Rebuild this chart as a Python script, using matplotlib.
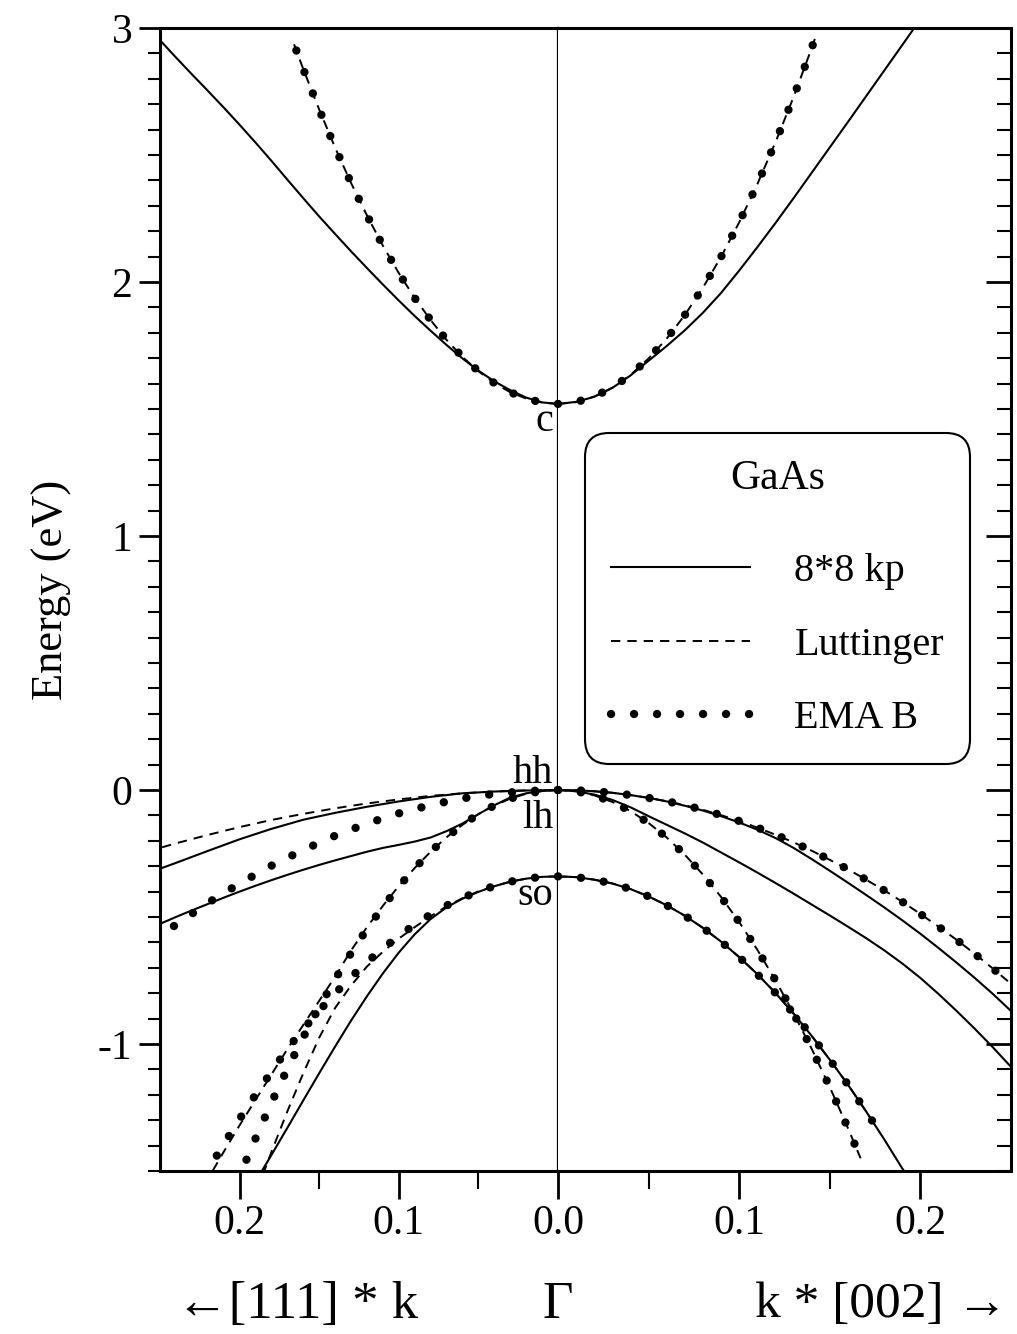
import matplotlib
matplotlib.use('Agg')
import matplotlib.pyplot as plt
from matplotlib.ticker import MultipleLocator, FixedLocator, FormatStrFormatter

plt.rcParams['font.family'] = ['Liberation Serif', 'DejaVu Serif']
plt.rcParams['axes.unicode_minus'] = False

# ---------------- band data, GaAs ----------------
# k * [002] side (right half)
c8_k002 = [0, .01, .02, .03, .04, .05, .06, .07, .08, .09, .10, .11, .12, .13, .14, .15, .16, .17, .18, .19, .1966]
c8_e002 = [1.520, 1.528, 1.548, 1.583, 1.632, 1.690, 1.748, 1.810, 1.879, 1.957, 2.045, 2.137, 2.232, 2.330, 2.430,
           2.530, 2.630, 2.731, 2.832, 2.933, 3.0]
cp_k002 = [0, .01, .02, .03, .04, .05, .06, .07, .08, .09, .10, .11, .12, .13, .14, .142]
cp_e002 = [1.520, 1.527, 1.549, 1.584, 1.634, 1.699, 1.777, 1.870, 1.978, 2.099, 2.235, 2.385, 2.550, 2.728, 2.921,
           2.962]

k002 = [0, .01, .02, .03, .04, .05, .06, .07, .08, .09, .10, .11, .12, .13, .14, .15, .16, .17, .18, .19, .20,
        .21, .22, .23, .24, .25]
hh8_e002 = [0, -0.001, -0.005, -0.011, -0.020, -0.031, -0.045, -0.062, -0.081, -0.103, -0.128, -0.156, -0.189,
            -0.228, -0.272, -0.318, -0.365, -0.413, -0.462, -0.513, -0.566, -0.622, -0.680, -0.740, -0.803, -0.870]
hhp_e002 = [0, -0.001, -0.005, -0.011, -0.020, -0.031, -0.044, -0.060, -0.078, -0.099, -0.122, -0.148, -0.176,
            -0.206, -0.239, -0.275, -0.312, -0.353, -0.395, -0.440, -0.488, -0.538, -0.590, -0.645, -0.703, -0.763]
lh8_e002 = [0, -0.005, -0.018, -0.039, -0.068, -0.103, -0.137, -0.171, -0.207, -0.246, -0.285, -0.325, -0.366,
            -0.408, -0.451, -0.494, -0.538, -0.583, -0.631, -0.683, -0.740, -0.803, -0.870, -0.940, -1.013, -1.090]

lhp_k002 = [0, .01, .02, .03, .04, .05, .06, .07, .08, .09, .10, .11, .12, .13, .14, .15, .16, .167]
lhp_e002 = [0, -0.005, -0.021, -0.047, -0.083, -0.130, -0.187, -0.255, -0.333, -0.421, -0.520, -0.629, -0.749,
            -0.879, -1.019, -1.170, -1.331, -1.450]

so8_k002 = [0, .01, .02, .03, .04, .05, .06, .07, .08, .09, .10, .11, .12, .13, .14, .15, .16, .17, .18, .19, .191]
so8_e002 = [-0.340, -0.343, -0.353, -0.368, -0.390, -0.419, -0.454, -0.495, -0.543, -0.597, -0.658, -0.725, -0.799,
            -0.880, -0.968, -1.062, -1.160, -1.265, -1.375, -1.490, -1.500]
sop_k002 = [0, .01, .02, .03, .04, .05, .06, .07, .08, .09, .10, .11, .12, .13, .14, .15, .16, .17, .175]
sop_e002 = [-0.340, -0.343, -0.353, -0.368, -0.390, -0.419, -0.454, -0.495, -0.543, -0.597, -0.658, -0.725, -0.799,
            -0.880, -0.968, -1.062, -1.160, -1.265, -1.320]

# [111] * k side (left half)
k111 = [0, .01, .02, .03, .04, .05, .06, .07, .08, .09, .10, .11, .12, .13, .14, .15, .16, .17, .18, .19, .20,
        .21, .22, .23, .24, .25]
c8_e111 = [1.520, 1.526, 1.545, 1.574, 1.609, 1.651, 1.699, 1.752, 1.808, 1.866, 1.927, 1.990, 2.055, 2.121, 2.189,
           2.258, 2.330, 2.403, 2.477, 2.549, 2.619, 2.687, 2.753, 2.818, 2.884, 2.952]
cp_k111 = [0, .01, .02, .03, .04, .05, .06, .07, .08, .09, .10, .11, .12, .13, .14, .15, .16, .167]
cp_e111 = [1.520, 1.525, 1.541, 1.566, 1.602, 1.649, 1.705, 1.772, 1.850, 1.937, 2.035, 2.143, 2.262, 2.390, 2.529,
           2.679, 2.838, 2.956]

k111_c = [0, .02, .04, .06, .08, .10, .12, .14, .16, .18, .20, .22, .24, .25]
hh8_e111 = [0, -0.002, -0.006, -0.013, -0.027, -0.045, -0.066, -0.090, -0.117, -0.153, -0.194, -0.240, -0.287, -0.310]
hhL_e111 = [0, -0.0015, -0.006, -0.013, -0.023, -0.037, -0.053, -0.072, -0.094, -0.118, -0.146, -0.177, -0.210,
            -0.228]
hhE_e111 = [0, -0.004, -0.015, -0.033, -0.059, -0.092, -0.132, -0.180, -0.236, -0.298, -0.368, -0.445, -0.530, -0.575]

lh8_e111 = [0, -0.004, -0.013, -0.030, -0.060, -0.095, -0.132, -0.162, -0.187, -0.203, -0.216, -0.228, -0.243,
            -0.260, -0.277, -0.295, -0.314, -0.334, -0.355, -0.377, -0.400, -0.424, -0.449, -0.474, -0.500, -0.527]

lhE_k111 = [0, .01, .02, .03, .04, .05, .06, .07, .08, .09, .10, .11, .12, .13, .14, .15, .16, .17, .18, .19, .1987]
lhE_e111 = [0, -0.004, -0.015, -0.034, -0.061, -0.095, -0.137, -0.186, -0.243, -0.308, -0.380, -0.460, -0.547,
            -0.642, -0.745, -0.855, -0.973, -1.098, -1.231, -1.372, -1.500]
lhL_k111 = [0, .01, .02, .03, .04, .05, .06, .07, .08, .09, .10, .11, .12, .13, .14, .15, .16, .17, .18, .19, .20,
            .21, .217]
lhL_e111 = [0, -0.004, -0.015, -0.034, -0.061, -0.095, -0.137, -0.186, -0.243, -0.307, -0.378, -0.456, -0.540,
            -0.632, -0.735, -0.830, -0.925, -1.020, -1.120, -1.220, -1.320, -1.425, -1.500]

soE_k111 = [0, .01, .02, .03, .04, .05, .06, .07, .08, .09, .10, .11, .12, .13, .14, .15, .16, .17, .18, .19, .20,
            .21, .22, .2202]
soE_e111 = [-0.340, -0.342, -0.349, -0.361, -0.378, -0.399, -0.425, -0.455, -0.490, -0.530, -0.575, -0.624, -0.678,
            -0.737, -0.801, -0.869, -0.942, -1.019, -1.110, -1.200, -1.295, -1.395, -1.498, -1.500]
soL_k111 = [0, .01, .02, .03, .04, .05, .06, .07, .08, .09, .10, .11, .12, .13, .14, .15, .16, .17, .18, .1845]
soL_e111 = [-0.340, -0.342, -0.349, -0.361, -0.378, -0.399, -0.426, -0.458, -0.497, -0.540, -0.585, -0.637, -0.695,
            -0.770, -0.858, -0.975, -1.115, -1.265, -1.425, -1.500]
so8_k111 = [0, .01, .02, .03, .04, .05, .06, .07, .08, .09, .10, .11, .12, .13, .14, .15, .16, .17, .18, .186]
so8_e111 = [-0.340, -0.342, -0.349, -0.361, -0.379, -0.401, -0.428, -0.462, -0.508, -0.568, -0.640, -0.722, -0.812,
            -0.908, -1.010, -1.115, -1.222, -1.330, -1.437, -1.500]

legend_labels = ['8*8 kp', 'Luttinger', 'EMA B']
x_ticks_111 = [0.1, 0.2]
x_ticks_002 = [0.0, 0.1, 0.2]
y_ticks = [-1, 0, 1, 2, 3]

# line styles
SOLID = dict(color='black', lw=1.5, ls='-')
DASH = dict(color='black', lw=1.4, ls=(0, (4.8, 3.6)))
DOT = dict(color='black', lw=6.0, ls=(0, (0.01, 2.75)), dash_capstyle='round')

FS = 30
W, H = 1017, 1334
fig = plt.figure(figsize=(W / 100, H / 100), dpi=100)
ax_l = fig.add_axes([160 / W, 163 / H, 398 / W, 1143 / H])
ax_r = fig.add_axes([558 / W, 163 / H, 453 / W, 1143 / H], sharey=ax_l)

# left half: [111]
ax_l.plot(k111, c8_e111, **SOLID)
ax_l.plot(cp_k111, cp_e111, **DASH)
ax_l.plot(cp_k111, cp_e111, **DOT)
ax_l.plot(k111_c, hh8_e111, **SOLID)
ax_l.plot(k111_c, hhL_e111, **DASH)
ax_l.plot(k111_c, hhE_e111, **DOT)
ax_l.plot(k111, lh8_e111, **SOLID)
ax_l.plot(lhL_k111, lhL_e111, **DASH)
ax_l.plot(lhE_k111, lhE_e111, **DOT)
ax_l.plot(so8_k111, so8_e111, **SOLID)
ax_l.plot(soL_k111, soL_e111, **DASH)
ax_l.plot(soE_k111, soE_e111, **DOT)

# right half: [002]
l_kp, = ax_r.plot(c8_k002, c8_e002, **SOLID)
l_lutt, = ax_r.plot(cp_k002, cp_e002, **DASH)
l_ema, = ax_r.plot(cp_k002, cp_e002, **DOT)
ax_r.plot(k002, hh8_e002, **SOLID)
ax_r.plot(k002, hhp_e002, **DASH)
ax_r.plot(k002, hhp_e002, **DOT)
ax_r.plot(k002, lh8_e002, **SOLID)
ax_r.plot(lhp_k002, lhp_e002, **DASH)
ax_r.plot(lhp_k002, lhp_e002, **DOT)
ax_r.plot(so8_k002, so8_e002, **SOLID)
ax_r.plot(sop_k002, sop_e002, **DASH)
ax_r.plot(sop_k002, sop_e002, **DOT)

ax_l.set_xlim(0.25, 0)
ax_r.set_xlim(0, 0.25)
ax_l.set_ylim(-1.5, 3)

# frame
for ax in (ax_l, ax_r):
    for s in ax.spines.values():
        s.set_linewidth(2.2)
ax_l.spines['right'].set_linewidth(1.6)
ax_r.spines['left'].set_visible(False)

# y ticks: outward on the left, inward on the right
ax_l.yaxis.set_major_locator(FixedLocator(y_ticks))
ax_l.yaxis.set_minor_locator(MultipleLocator(0.1))
ax_l.yaxis.set_major_formatter(FormatStrFormatter('%d'))
ax_l.tick_params(axis='y', which='both', direction='out', left=True, right=False, labelsize=FS, pad=5)
ax_l.tick_params(axis='y', which='major', length=15, width=2)
ax_l.tick_params(axis='y', which='minor', length=9, width=1.5)
ax_r.tick_params(axis='y', which='both', direction='in', left=False, right=True, labelleft=False)
ax_r.tick_params(axis='y', which='major', length=18, width=2)
ax_r.tick_params(axis='y', which='minor', length=10, width=1.5)

# x ticks
ax_l.set_xticks(x_ticks_111)
ax_l.set_xticks([0.05, 0.15], minor=True)
ax_r.set_xticks(x_ticks_002)
ax_r.set_xticks([0.05, 0.15], minor=True)
for ax in (ax_l, ax_r):
    ax.xaxis.set_major_formatter(FormatStrFormatter('%.1f'))
    ax.tick_params(axis='x', which='both', direction='out', top=False, labelsize=FS, pad=4)
    ax.tick_params(axis='x', which='major', length=20, width=2)
    ax.tick_params(axis='x', which='minor', length=13, width=1.5)

# band labels next to Gamma
for txt, e in [('c', 1.413), ('hh', 0.028), ('lh', -0.150), ('so', -0.453)]:
    ax_l.text(0.003, e, txt, ha='right', va='baseline', fontsize=29)

# legend
leg = ax_r.legend([l_kp, l_lutt, l_ema], legend_labels, title='GaAs', loc='upper left',
                  bbox_to_anchor=(585 / W, 1 - 433 / H), bbox_transform=fig.transFigure,
                  fontsize=29, title_fontsize=30, frameon=True, fancybox=True, framealpha=1,
                  edgecolor='black', borderpad=0.65, labelspacing=0.9, handlelength=3.45,
                  handletextpad=1.1, borderaxespad=0)
leg.get_frame().set_linewidth(1.5)
leg.get_frame().set_boxstyle('round,pad=0,rounding_size=0.6')
leg._legend_box.sep = 40  # wider gap between title and entries (points)

# axis labels
fig.text(52 / W, 1 - 590 / H, 'Energy (eV)', rotation=90, ha='center', va='center', fontsize=32)
fig.text(297 / W, 1 - 1305 / H, '\u2190[111] * k', ha='center', va='center', fontsize=38)
fig.text(558 / W, 1 - 1305 / H, '\u0393', ha='center', va='center', fontsize=38)
fig.text(881 / W, 1 - 1305 / H, 'k * [002] \u2192', ha='center', va='center', fontsize=37)

fig.savefig('out.png', dpi=100)
